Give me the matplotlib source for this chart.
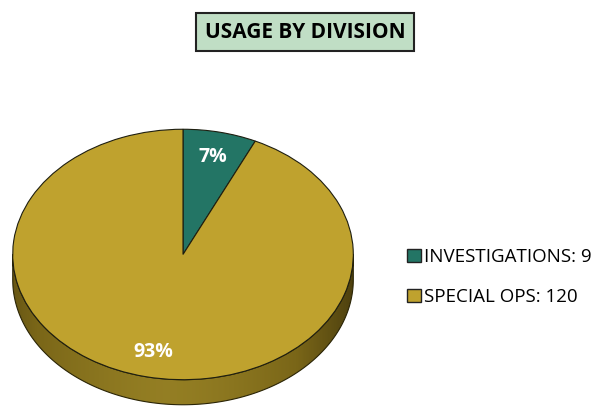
import numpy as np
import matplotlib
matplotlib.use("Agg")
import matplotlib.pyplot as plt
from matplotlib.patches import Polygon

plt.rcParams["font.family"] = ["Open Sans", "DejaVu Sans"]

divisions = ["INVESTIGATIONS", "SPECIAL OPS"]
usage = [9, 120]
top_colors = ["#237565", "#BFA22E"]
side_color = "#7A6618"

fig = plt.figure(figsize=(6.12, 4.07), dpi=100)

# pie axes, stretched so the circle becomes a tilted ellipse
depth = 0.2
ax = fig.add_axes([11 / 612, 1 / 407, 344 / 612, 278 / 407])
ax.axis("off")

# side wall: gradient clipped to the band under the ellipse
t = np.linspace(np.pi, 2 * np.pi, 200)
lower = np.column_stack([np.cos(t), np.sin(t)])
shifted = np.column_stack([np.cos(t[::-1]), np.sin(t[::-1]) - depth])
band = Polygon(np.vstack([lower, shifted]), closed=True, facecolor="none",
               edgecolor="#2a2405", linewidth=0.8, zorder=1)
ax.add_patch(band)
xs = np.linspace(-1, 1, 300)
shade = 0.3 + 0.6 * (1 - np.abs(xs + 0.1) ** 1.5)
grad = np.tile(shade, (10, 1))
cmap = matplotlib.colors.LinearSegmentedColormap.from_list(
    "side", ["#2e2608", side_color, "#9a8426"])
img = ax.imshow(grad, extent=[-1, 1, -1 - depth, 0], cmap=cmap, vmin=0, vmax=1,
                aspect="auto", zorder=0.5)
img.set_clip_path(band)

wedges, texts, autotexts = ax.pie(
    usage, colors=top_colors, startangle=90, counterclock=False,
    autopct="%1.0f%%", pctdistance=0.8,
    wedgeprops=dict(edgecolor="#1e1e10", linewidth=0.8),
    textprops=dict(color="white", fontsize=14, fontweight="bold"))
for w in wedges:
    w.set_zorder(2)
for a in autotexts:
    a.set_zorder(3)
ax.set_xlim(-1.01, 1.01)
ax.set_ylim(-1 - depth - 0.01, 1.01)
ax.set_aspect("auto")

# title in a box
fig.text(305 / 612, 1 - 32 / 407, "USAGE BY DIVISION", ha="center", va="center",
         fontsize=15, fontweight="bold", color="black",
         bbox=dict(boxstyle="square,pad=0.42", facecolor="#C0DEC5",
                   edgecolor="#222222", linewidth=1.5))

# legend
handles = [plt.Rectangle((0, 0), 1, 1, facecolor=c, edgecolor="#222222", linewidth=1)
           for c in top_colors]
labels = [f"{d}: {v}" for d, v in zip(divisions, usage)]
fig.legend(handles, labels, loc="center left", bbox_to_anchor=(398 / 612, 1 - 277 / 407),
           frameon=False, fontsize=13.5, handlelength=0.7, handleheight=0.7,
           handletextpad=0.2, labelspacing=1.15, borderpad=0)

fig.savefig("out.png", dpi=100)
